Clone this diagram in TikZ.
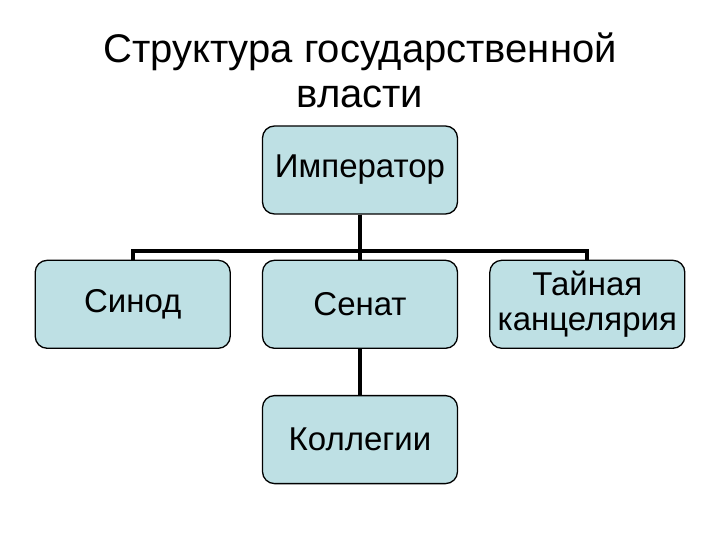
\documentclass[tikz,border=0pt]{standalone}
\usepackage{fontspec}
\setmainfont{Liberation Sans}
\usetikzlibrary{positioning}
\definecolor{boxfill}{RGB}{190,224,228}

\begin{document}
\begin{tikzpicture}[x=1pt,y=1pt,
    unit/.style={draw=black,line width=1.3pt,fill=boxfill,rounded corners=12pt,
      minimum width=195pt,minimum height=88pt,inner sep=2pt,align=center,
      font=\fontsize{33}{35}\selectfont},
    link/.style={line width=4pt}]
  \useasboundingbox (0,0) rectangle (720,-540);

  % title
  \node[align=center,font=\fontsize{40}{45}\selectfont] (title) at (360,-70)
    {Структура государственной\\власти};

  % boxes
  \node[unit] (emperor) at (360,-170) {Император};
  \node[unit,below=45pt of emperor] (senate) {Сенат};
  \node[unit,left=31pt of senate] (synod) {Синод};
  \node[unit,right=31pt of senate] (chancery) {Тайная\\канцелярия};
  \node[unit,below=46pt of senate] (colleges) {Коллегии};

  % connectors
  \draw[link] (emperor.south) -- ++(0,-36) -| (synod.north);
  \draw[link] (emperor.south) -- ++(0,-36) -| (chancery.north);
  \draw[link] (emperor.south) -- (senate.north);
  \draw[link] (senate.south) -- (colleges.north);
\end{tikzpicture}
\end{document}
